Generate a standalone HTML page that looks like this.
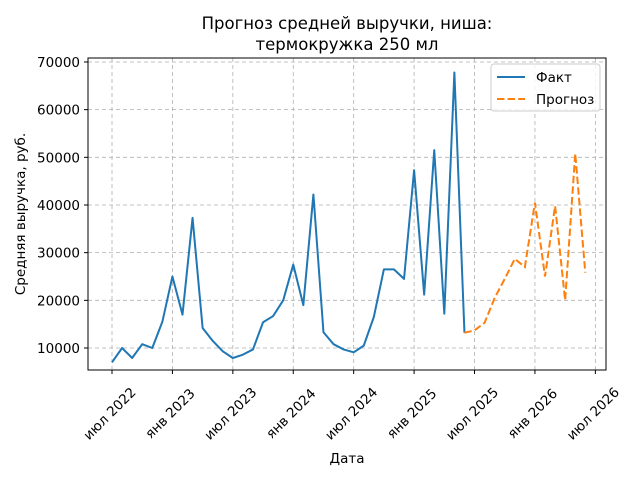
<!DOCTYPE html>
<html><head><meta charset="utf-8"><style>
body{margin:0;background:#fff}
svg{display:block;font-family:"DejaVu Sans","Liberation Sans",sans-serif}
</style></head><body>
<svg id="chart" width="640" height="480" viewBox="0 0 640 480" xmlns="http://www.w3.org/2000/svg">
<rect width="640" height="480" fill="#fff"/>
<text x="347" y="29" text-anchor="middle" font-size="16.5">Прогноз средней выручки, ниша:</text>
<text x="347" y="50" text-anchor="middle" font-size="16.5">термокружка 250 мл</text>
<g id="grid"></g>
<g id="axes"></g>
<g id="series"></g>
<rect x="88" y="58" width="518" height="312" fill="none" stroke="#000" stroke-width="1"/>
<text x="347" y="463" text-anchor="middle" font-size="13.5">Дата</text>
<text transform="translate(25,214) rotate(-90)" text-anchor="middle" font-size="13.5">Средняя выручка, руб.</text>
<g>
<rect x="491" y="64" width="109" height="47" rx="3" fill="#fff" fill-opacity="0.8" stroke="#ccc"/>
<line x1="497" y1="77" x2="525" y2="77" stroke="#1f77b4" stroke-width="2"/>
<text x="536" y="82" font-size="13.5">Факт</text>
<line x1="497" y1="99" x2="525" y2="99" stroke="#ff7f0e" stroke-width="2" stroke-dasharray="7.4,3.2"/>
<text x="536" y="104" font-size="13.5">Прогноз</text>
</g>
</svg>
<script>
// months indexed from Jul 2022 = 0
const factValues = [7000,10000,7900,10800,10000,15500,25000,17000,37300,14200,11500,9300,7900,8600,9700,15400,16700,20000,27500,19000,42200,13300,10800,9700,9100,10500,16500,26500,26500,24500,47300,21200,51500,17200,67800,13200];
const forecastStart = 35;
const forecastValues = [13200,13700,15300,20500,24500,28700,27000,40500,25000,39800,20000,50800,25800];
const yTicks = [10000,20000,30000,40000,50000,60000,70000];
const xTickMonths = [0,6,12,18,24,30,36,42,48];
const xTickLabels = ["июл 2022","янв 2023","июл 2023","янв 2024","июл 2024","янв 2025","июл 2025","янв 2026","июл 2026"];

const NS="http://www.w3.org/2000/svg";
function xs(m){return 112+m*10.07;}
function ys(v){return 348-(v-10000)*0.004767;}
function mk(t,p,attrs){const e=document.createElementNS(NS,t);for(const k in attrs)e.setAttribute(k,attrs[k]);p.appendChild(e);return e;}
const grid=document.getElementById('grid'),axes=document.getElementById('axes'),series=document.getElementById('series');
yTicks.forEach(v=>{
  const y=ys(v);
  const g=mk('line',grid,{x1:88,x2:606,y1:y,y2:y,stroke:'#b0b0b0','stroke-dasharray':'4,3','stroke-width':0.8});
  
  
  mk('line',axes,{x1:84,x2:88,y1:y,y2:y,stroke:'#000'});
  const t=mk('text',axes,{x:80,y:y+5,'text-anchor':'end','font-size':13.5});
  t.textContent=v;
  
  
});
xTickMonths.forEach((m,i)=>{
  const x=xs(m);
  const g=mk('line',grid,{x1:x,x2:x,y1:58,y2:370,stroke:'#b0b0b0','stroke-dasharray':'4,3','stroke-width':0.8});
  
  
  mk('line',axes,{x1:x,x2:x,y1:370,y2:374,stroke:'#000'});
  const t=mk('text',axes,{x:0,y:0,'text-anchor':'middle','dominant-baseline':'central','font-size':13.5,transform:`translate(${x-2},${414}) rotate(-45)`});
  t.textContent=xTickLabels[i];
  
  
});
const fp=factValues.map((v,i)=>xs(i)+','+ys(v)).join(' ');
const l1=mk('polyline',series,{points:fp,fill:'none',stroke:'#1f77b4','stroke-width':2,'stroke-linejoin':'round'});


const pp=forecastValues.map((v,i)=>xs(forecastStart+i)+','+ys(v)).join(' ');
const l2=mk('polyline',series,{points:pp,fill:'none',stroke:'#ff7f0e','stroke-width':2,'stroke-dasharray':'7.4,3.2'});


</script>
</body></html>
